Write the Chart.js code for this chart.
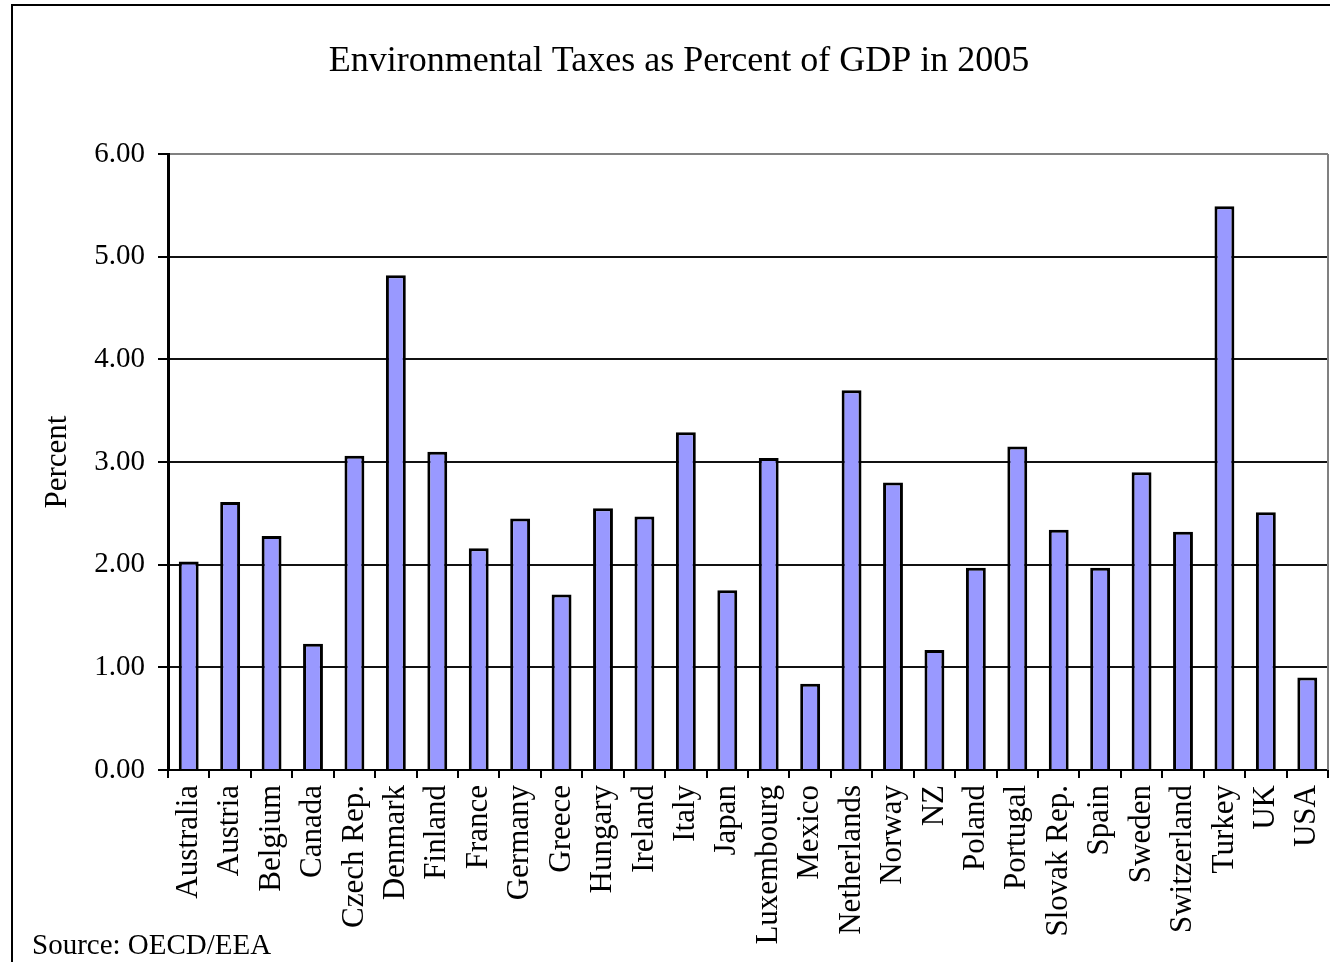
<!DOCTYPE html>
<html lang="en">
<head>
    <meta charset="UTF-8">
    <title>Environmental Taxes as Percent of GDP in 2005</title>
    <script src="https://cdn.jsdelivr.net/npm/chart.js"></script>
    <style>
        body {
            margin: 0;
            background: #fff;
        }

        #wrap {
            width: 1330px;
            height: 962px;
        }
    </style>
</head>
<body>
    <div id="wrap">
        <canvas id="taxChart" width="1330" height="962"></canvas>
    </div>

    <script>
        // Data
        const countries = [
            "Australia", "Austria", "Belgium", "Canada", "Czech Rep.", "Denmark", "Finland",
            "France", "Germany", "Greece", "Hungary", "Ireland", "Italy", "Japan", "Luxembourg",
            "Mexico", "Netherlands", "Norway", "NZ", "Poland", "Portugal", "Slovak Rep.",
            "Spain", "Sweden", "Switzerland", "Turkey", "UK", "USA"
        ];
        const taxPercent = [
            2.03, 2.61, 2.28, 1.23, 3.06, 4.82, 3.10,
            2.16, 2.45, 1.71, 2.55, 2.47, 3.29, 1.75, 3.04,
            0.84, 3.70, 2.80, 1.17, 1.97, 3.15, 2.34,
            1.97, 2.90, 2.32, 5.49, 2.51, 0.90
        ];
        const yTicks = [0, 1, 2, 3, 4, 5, 6];

        const chartTitle = "Environmental Taxes as Percent of GDP in 2005";
        const sourceNote = "Source: OECD/EEA";
        const serif = "'Liberation Serif', 'Times New Roman', serif";

        // Outer frame, title, source note and the grey plot border
        const decorations = {
            id: "decorations",
            beforeDraw(chart) {
                const ctx = chart.ctx;
                ctx.save();
                ctx.strokeStyle = "#000";
                ctx.lineWidth = 2;
                ctx.strokeRect(12, 5, 1340, 980);
                ctx.restore();
            },
            afterDraw(chart) {
                const ctx = chart.ctx;
                const area = chart.chartArea;
                ctx.save();
                ctx.strokeStyle = "#808080";
                ctx.lineWidth = 2;
                ctx.beginPath();
                ctx.moveTo(area.right, area.top);
                ctx.lineTo(area.right, area.bottom);
                ctx.stroke();

                ctx.fillStyle = "#000";
                ctx.textBaseline = "alphabetic";
                ctx.font = "36px " + serif;
                ctx.textAlign = "center";
                ctx.fillText(chartTitle, 679, 71);

                ctx.font = "29px " + serif;
                ctx.textAlign = "left";
                ctx.fillText(sourceNote, 32, 954);
                ctx.restore();
            }
        };

        const ctx = document.getElementById("taxChart").getContext("2d");
        new Chart(ctx, {
            type: "bar",
            data: {
                labels: countries,
                datasets: [{
                    label: "Percent",
                    data: taxPercent,
                    backgroundColor: "#9999ff",
                    borderColor: "#000",
                    borderWidth: 3,
                    barPercentage: 0.48,
                    categoryPercentage: 1.0,
                }],
            },
            options: {
                responsive: false,
                animation: false,
                devicePixelRatio: 1,
                layout: {
                    padding: { top: 154, left: 0, right: 2, bottom: 0 },
                },
                plugins: {
                    legend: { display: false },
                    tooltip: { enabled: false },
                    title: { display: false },
                },
                scales: {
                    x: {
                        grid: {
                            offset: true,
                            drawOnChartArea: false,
                            drawTicks: true,
                            tickLength: 8,
                            color: "#000",
                            lineWidth: 2,
                        },
                        border: { color: "#000", width: 2 },
                        ticks: {
                            autoSkip: false,
                            minRotation: 90,
                            maxRotation: 90,
                            padding: 7,
                            color: "#000",
                            font: { family: serif, size: 31 },
                        },
                        afterFit(scale) {
                            scale.height = 192;
                            scale.paddingLeft = 0;
                            scale.paddingRight = 0;
                        },
                    },
                    y: {
                        min: 0,
                        max: 6,
                        afterBuildTicks(scale) {
                            scale.ticks = yTicks.map(v => ({ value: v }));
                        },
                        grid: {
                            color: c => (c.tick && c.tick.value === 6 ? "#808080" : "#111"),
                            lineWidth: 2,
                            tickColor: "#000",
                            tickLength: 10,
                            tickWidth: 2,
                        },
                        border: { color: "#000", width: 3 },
                        ticks: {
                            padding: 13,
                            color: "#000",
                            font: { family: serif, size: 29 },
                            callback: v => Number(v).toFixed(2),
                        },
                        title: {
                            display: true,
                            text: "Percent",
                            color: "#000",
                            font: { family: serif, size: 31 },
                            padding: { top: 39, bottom: 0 },
                        },
                        afterFit(scale) {
                            scale.width = 168;
                        },
                    },
                },
            },
            plugins: [decorations],
        });
    </script>
</body>
</html>
